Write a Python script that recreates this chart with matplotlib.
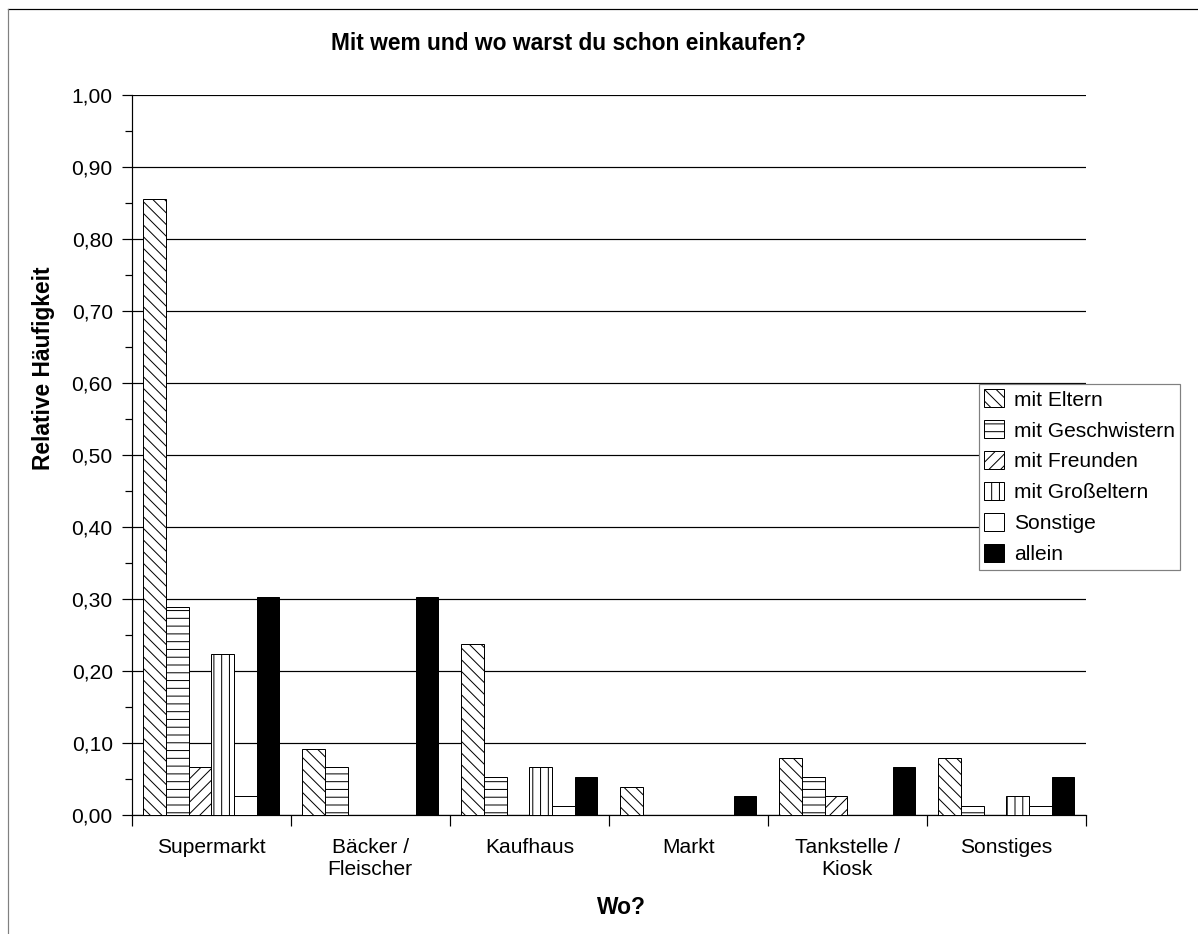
import numpy as np
import matplotlib.pyplot as plt
from matplotlib.lines import Line2D
from matplotlib.ticker import FixedLocator, MultipleLocator, FuncFormatter

DPI = 140
W, H = 1198, 934

def px(v):
    # pixels -> points at this dpi
    return v * 72.0 / DPI

plt.rcParams['font.family'] = ['Liberation Sans', 'DejaVu Sans']
plt.rcParams['hatch.linewidth'] = px(1.0)
plt.rcParams['hatch.color'] = 'black'

orte = ['Supermarkt', 'Bäcker /\nFleischer', 'Kaufhaus', 'Markt',
        'Tankstelle /\nKiosk', 'Sonstiges']
reihen = ['mit Eltern', 'mit Geschwistern', 'mit Freunden',
          'mit Großeltern', 'Sonstige', 'allein']

mit_eltern = [0.855, 0.092, 0.237, 0.039, 0.079, 0.079]
mit_geschwistern = [0.289, 0.066, 0.053, 0.0, 0.053, 0.013]
mit_freunden = [0.066, 0.0, 0.0, 0.0, 0.026, 0.0]
mit_grosseltern = [0.224, 0.0, 0.066, 0.0, 0.0, 0.026]
sonstige = [0.026, 0.0, 0.013, 0.0, 0.0, 0.013]
allein = [0.303, 0.303, 0.053, 0.026, 0.066, 0.053]

werte = [mit_eltern, mit_geschwistern, mit_freunden, mit_grosseltern,
         sonstige, allein]
muster = ['\\' * 4, '---', '////', '|||', '', '']
farben = ['white', 'white', 'white', 'white', 'white', 'black']

fig = plt.figure(figsize=(W / DPI, H / DPI), dpi=DPI)
ax = fig.add_axes([131.7 / W, 1 - 815 / H, (1086 - 131.7) / W, (815 - 95) / H])

n = len(orte)
breite = 0.1425
x0 = np.arange(n) + 0.5
for i, (name, vals) in enumerate(zip(reihen, werte)):
    ax.bar(x0 + (i - 2.5) * breite, vals, width=breite, label=name,
           color=farben[i], hatch=muster[i], edgecolor='black',
           linewidth=px(1.0), zorder=3)

ax.set_xlim(0, n)
ax.set_ylim(0, 1.0)

# y axis: major every 0.10, minor ticks in between
ax.yaxis.set_major_locator(MultipleLocator(0.1))
ax.yaxis.set_minor_locator(MultipleLocator(0.05))
ax.yaxis.set_major_formatter(FuncFormatter(lambda v, p: f'{v:.2f}'.replace('.', ',')))
ax.tick_params(axis='y', which='major', direction='out', length=px(10),
               width=px(1.2), labelsize=px(21), pad=px(9))
ax.tick_params(axis='y', which='minor', direction='out', length=px(7),
               width=px(1.2))
ax.yaxis.grid(True, which='major', color='black', linewidth=px(1.2), zorder=0)

# x axis: labels in the middle, tick marks on the group boundaries
ax.xaxis.set_major_locator(FixedLocator(x0))
ax.set_xticklabels(orte, linespacing=1.2)
ax.xaxis.set_minor_locator(FixedLocator(np.arange(n + 1)))
ax.tick_params(axis='x', which='major', length=0, labelsize=px(21), pad=px(23))
ax.tick_params(axis='x', which='minor', direction='out', length=px(11),
               width=px(1.2))

for s in ['top', 'right']:
    ax.spines[s].set_visible(False)
for s in ['left', 'bottom']:
    ax.spines[s].set_linewidth(px(1.2))
ax.set_axisbelow(True)

fig.text(568 / W, 1 - 43 / H, 'Mit wem und wo warst du schon einkaufen?',
         fontsize=px(22.8), fontweight='bold', ha='center', va='center')
fig.text(44 / W, 1 - 368 / H, 'Relative Häufigkeit', fontsize=px(22.8),
         fontweight='bold', rotation=90, ha='center', va='center')
fig.text(621 / W, 1 - 907 / H, 'Wo?', fontsize=px(22.8), fontweight='bold',
         ha='center', va='center')

leg = ax.legend(loc='upper left', bbox_to_anchor=(979 / W, 1 - 384 / H),
                bbox_transform=fig.transFigure, fontsize=px(21), frameon=True,
                fancybox=False, edgecolor='#808080', framealpha=1,
                handlelength=0.95, handleheight=0.95, handletextpad=0.45,
                labelspacing=0.51, borderpad=0.25, borderaxespad=0)
leg.get_frame().set_linewidth(px(1.2))

# frame around the chart
fig.add_artist(Line2D([8 / W, 1], [1 - 9 / H, 1 - 9 / H], color='black',
                      linewidth=px(1.2), transform=fig.transFigure))
fig.add_artist(Line2D([8 / W, 8 / W], [0, 1 - 9 / H], color='#808080',
                      linewidth=px(1.2), transform=fig.transFigure))

fig.savefig('out.png', dpi=DPI, facecolor='white')
